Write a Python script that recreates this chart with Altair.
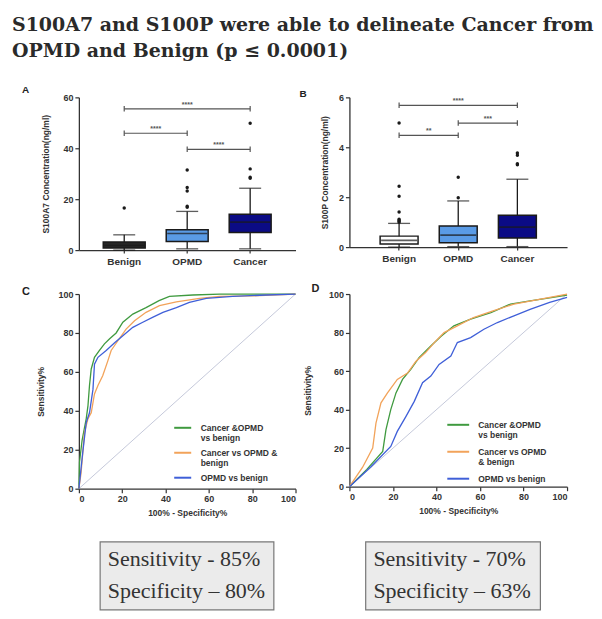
import altair as alt
import pandas as pd

# ---------------- data ----------------
groups = ["Benign", "OPMD", "Cancer"]
a_box_fill = ["#262626", "#5a9be6", "#0b0b85"]
b_box_fill = ["#ffffff", "#5a9be6", "#0b0b85"]

# Panel A: S100A7 concentration (ng/ml)
a_lo = [0.0, 0.5, 0.5]
a_q1 = [0.8, 3.4, 6.9]
a_med = [1.8, 6.5, 11.0]
a_q3 = [3.2, 8.0, 14.1]
a_hi = [6.0, 15.2, 24.3]
a_out_group = ["Benign", "OPMD", "OPMD", "OPMD", "OPMD", "OPMD",
               "Cancer", "Cancer", "Cancer", "Cancer"]
a_out_value = [16.5, 16.8, 17.2, 23.2, 24.6, 31.5, 28.2, 28.6, 31.9, 49.8]
a_br_left = ["Benign", "Benign", "OPMD"]
a_br_right = ["Cancer", "OPMD", "Cancer"]
a_br_y = [55.5, 45.9, 39.6]
a_br_label = ["****", "****", "****"]
a_ticks = [0, 20, 40, 60]

# Panel B: S100P concentration (ng/ml)
b_lo = [0.0, 0.02, 0.02]
b_q1 = [0.12, 0.17, 0.36]
b_med = [0.27, 0.48, 0.80]
b_q3 = [0.44, 0.85, 1.28]
b_hi = [0.95, 1.85, 2.72]
b_out_group = ["Benign"] * 8 + ["OPMD"] * 2 + ["Cancer"] * 4
b_out_value = [1.0, 1.04, 1.08, 1.12, 1.41, 2.04, 2.44, 4.97,
               1.98, 2.80, 3.30, 3.34, 3.68, 3.77]
b_br_left = ["Benign", "OPMD", "Benign"]
b_br_right = ["Cancer", "Cancer", "OPMD"]
b_br_y = [5.68, 4.97, 4.48]
b_br_label = ["****", "***", "**"]
b_ticks = [0, 2, 4, 6]

# ROC curves
series = ["Cancer &OPMD vs benign", "Cancer vs OPMD & benign", "OPMD vs benign"]
roc_colors = ["#3f9a3f", "#f2a35a", "#3f5fd8"]
roc_ticks = [0, 20, 40, 60, 80, 100]
diag_x = [0, 100]
diag_y = [0, 100]

c_green_x = [0, 0.3, 1.5, 3.4, 4.2, 4.9, 5.7, 7.2, 9.5, 11.8, 14.2, 17.2, 20.3, 24.9, 31, 37, 41.8, 52.6, 65, 100]
c_green_y = [0, 13.7, 25, 36, 42.7, 53, 61.5, 67.5, 71, 74.4, 77, 80, 85.5, 89.7, 93, 96.6, 98.8, 99.5, 100, 100]
c_orange_x = [0, 1.0, 2.6, 4.2, 5.7, 7.2, 8.8, 11, 13.4, 14.9, 18, 21.8, 25.7, 31, 37.2, 45, 55.7, 65, 80, 100]
c_orange_y = [0, 8, 29, 36, 39, 48.7, 53, 58, 65.8, 71, 76, 82, 86.3, 90.6, 94, 96, 97.8, 98.8, 99, 100]
c_blue_x = [0, 1.8, 3.4, 4.9, 6.5, 7.2, 8.8, 12.6, 16.5, 20.3, 24.9, 29.5, 34, 38.8, 45, 51, 58.8, 71, 86.5, 100]
c_blue_y = [0, 18.8, 34, 39, 51, 64, 67.5, 71, 75, 78.6, 82.9, 85.5, 88, 90.6, 93, 95.7, 97.8, 98.8, 99.5, 100]

d_green_x = [0, 8, 15.3, 16.8, 19, 21.4, 24.4, 28.2, 32, 37.4, 42, 48, 55.7, 65, 74, 83, 92, 100]
d_green_y = [0, 9, 18.3, 29.6, 40, 48.7, 55.7, 60.9, 67, 73, 78, 83.5, 87, 90.4, 94.8, 96.5, 98, 99.5]
d_orange_x = [0, 6, 10.7, 12.2, 14.5, 17.5, 22, 26.7, 30.5, 35, 39, 43.5, 49.6, 57, 66, 75.6, 86, 100]
d_orange_y = [0, 10, 20, 33, 43.5, 48.7, 55.7, 59, 65, 69.6, 74.8, 80, 83.5, 87.8, 91.3, 94.8, 97, 100]
d_blue_x = [0, 10, 19, 22, 26, 29.8, 33.6, 37.4, 41.2, 46.6, 49.6, 55.7, 61.8, 68, 75.6, 83, 92, 100]
d_blue_y = [0, 10.5, 20.9, 28.7, 36.5, 44.3, 54, 57.4, 63.5, 67.8, 74.8, 77.4, 81.7, 85.2, 88.7, 92, 95.7, 98.3]

stat_text_1 = ["Sensitivity - 85%", "Specificity \u2013 80%"]
stat_text_2 = ["Sensitivity - 70%", "Specificity \u2013 63%"]

main_title = ["S100A7 and S100P were able to delineate Cancer from",
              "OPMD and Benign (p \u2264 0.0001)"]

# ---------------- styling ----------------
SANS = "Liberation Sans"
SERIF = "DejaVu Serif"
INK = "#1a1a1a"
GRAY = "#555555"


def letter_title(letter, dx, offset, size):
    return alt.TitleParams(letter, anchor="start", frame="group", font=SANS, fontSize=size,
                           fontWeight="bold", color="#222", dx=dx, offset=offset,
                           baseline="bottom")


def box_panel(letter, ldx, loff, ytitle, ymax, ticks, lo, q1, med, q3, hi,
              out_g, out_v, brl, brr, bry, brlab, width, height, pad_outer, box_w,
              fills, yext, ytp):
    stats = pd.DataFrame({"group": groups, "lo": lo, "q1": q1, "med": med, "q3": q3, "hi": hi})
    xs = alt.Scale(domain=groups, paddingInner=0, paddingOuter=pad_outer)
    ys = alt.Scale(domain=[0, ymax], nice=False)
    xax = alt.Axis(title=None, labelAngle=0, labelFontSize=10, tickSize=3, labelPadding=3)
    yax = alt.Axis(title=ytitle, values=ticks, tickSize=4, labelPadding=2, titlePadding=ytp,
                   minExtent=yext, maxExtent=yext)
    X = alt.X("group:N", scale=xs, axis=xax, sort=groups)
    base = alt.Chart(stats)
    whisk = base.mark_rule(color=INK, strokeWidth=1.3).encode(
        x=X, y=alt.Y("lo:Q", scale=ys, axis=yax), y2="hi:Q")
    box = base.mark_bar(size=box_w, stroke=INK, strokeWidth=1.5).encode(
        x=X, y=alt.Y("q1:Q", scale=ys), y2="q3:Q",
        fill=alt.Fill("group:N", scale=alt.Scale(domain=groups, range=fills), legend=None))
    medt = base.mark_tick(size=box_w - 2, thickness=1.6, color=INK).encode(
        x=X, y=alt.Y("med:Q", scale=ys))
    cap_hi = base.mark_tick(size=22, thickness=1.3, color=INK).encode(
        x=X, y=alt.Y("hi:Q", scale=ys))
    cap_lo = base.mark_tick(size=22, thickness=1.3, color=INK).encode(
        x=X, y=alt.Y("lo:Q", scale=ys))
    outs = alt.Chart(pd.DataFrame({"group": out_g, "value": out_v})).mark_point(
        filled=True, size=12, color=INK, opacity=1).encode(
        x=X, y=alt.Y("value:Q", scale=ys))
    layers = [whisk, box, medt, cap_hi, cap_lo, outs]

    bdf = pd.DataFrame({"left": brl, "right": brr, "y": bry, "label": brlab})
    layers.append(alt.Chart(bdf).mark_rule(color=GRAY, strokeWidth=1.2).encode(
        x=alt.X("left:N", scale=xs, axis=xax), x2="right:N", y=alt.Y("y:Q", scale=ys)))
    edf = pd.DataFrame({"cat": brl + brr, "y": bry + bry})
    layers.append(alt.Chart(edf).mark_point(shape="M0,-1L0,1", size=30, strokeWidth=1.2,
                                            color=GRAY, opacity=1).encode(
        x=alt.X("cat:N", scale=xs, axis=xax), y=alt.Y("y:Q", scale=ys)))
    for l, r, yv, lab in zip(brl, brr, bry, brlab):
        i, j = groups.index(l), groups.index(r)
        m = (i + j) / 2
        if m == int(m):
            cat, bp = groups[int(m)], 0.5
        else:
            cat, bp = groups[int(m)], 1.0
        tdf = pd.DataFrame({"cat": [cat], "y": [yv], "label": [lab]})
        layers.append(alt.Chart(tdf).mark_text(baseline="bottom", dy=-1, fontSize=7,
                                               font=SANS, fontWeight="bold", color=GRAY).encode(
            x=alt.X("cat:N", scale=xs, axis=xax, bandPosition=bp),
            y=alt.Y("y:Q", scale=ys), text="label:N"))
    return alt.layer(*layers).properties(width=width, height=height,
                                         title=letter_title(letter, ldx, loff, 10))


def roc_panel(letter, ldx, loff, curves, labexpr, width, height, lx, ly, yext, ytp,
              sym_size, lab_off):
    rows = []
    for name, (cx, cy) in zip(series, curves):
        for k, (a, b) in enumerate(zip(cx, cy)):
            rows.append({"series": name, "fpr": a, "tpr": b, "k": k})
    df = pd.DataFrame(rows)
    sx = alt.Scale(domain=[0, 100], nice=False)
    sy = alt.Scale(domain=[0, 100], nice=False)
    xax = alt.Axis(title="100% - Specificity%", values=roc_ticks, tickSize=4, labelPadding=2,
                   titlePadding=5)
    yax = alt.Axis(title="Sensitivity%", values=roc_ticks, tickSize=4, labelPadding=2,
                   titlePadding=ytp, minExtent=yext, maxExtent=yext)
    diag = alt.Chart(pd.DataFrame({"fpr": diag_x, "tpr": diag_y})).mark_line(
        color="#c5c9da", strokeWidth=1).encode(
        x=alt.X("fpr:Q", scale=sx, axis=xax), y=alt.Y("tpr:Q", scale=sy, axis=yax))
    lines = alt.Chart(df).mark_line(strokeWidth=1.3).encode(
        x=alt.X("fpr:Q", scale=sx, axis=xax),
        y=alt.Y("tpr:Q", scale=sy, axis=yax),
        color=alt.Color("series:N", scale=alt.Scale(domain=series, range=roc_colors),
                        legend=alt.Legend(title=None, orient="none", legendX=lx, legendY=ly,
                                          symbolType="stroke", symbolStrokeWidth=2,
                                          symbolSize=sym_size, labelFont=SANS, labelFontSize=8.5,
                                          labelFontWeight="bold", labelColor="#333",
                                          labelExpr=labexpr, rowPadding=0, labelOffset=lab_off,
                                          labelLimit=200)),
        order="k:Q")
    return alt.layer(diag, lines).properties(width=width, height=height,
                                             title=letter_title(letter, ldx, loff, 11))


def stat_box(lines, width, height):
    d = pd.DataFrame({"line": [0, 1], "text": lines})
    return alt.Chart(d).mark_text(align="left", baseline="alphabetic", font="Liberation Serif",
                                  fontSize=22, color="#333").encode(
        x=alt.value(8),
        y=alt.Y("line:O", axis=None, scale=alt.Scale(domain=[0, 1], range=[24, 56], padding=0)),
        text="text:N").properties(width=width, height=height,
                                  view=alt.ViewBackground(fill="#ebebeb", stroke="#777",
                                                          strokeWidth=1.2))


def spacer(w, h):
    return alt.Chart(pd.DataFrame({"v": [0]})).mark_point(opacity=0).encode(
        x=alt.X("v:Q", axis=None), y=alt.Y("v:Q", axis=None)).properties(width=w, height=h)


A = box_panel("A", -57, -12, "S100A7 Concentration(ng/ml)", 60, a_ticks, a_lo, a_q1, a_med, a_q3,
              a_hi, a_out_group, a_out_value, a_br_left, a_br_right, a_br_y, a_br_label,
              217, 153, 0.22, 42, a_box_fill, 20, 8)
B = box_panel("B", -50, -16, "S100P Concentration(ng/ml)", 6, b_ticks, b_lo, b_q1, b_med, b_q3,
              b_hi, b_out_group, b_out_value, b_br_left, b_br_right, b_br_y, b_br_label,
              218, 150, 0.34, 38, b_box_fill, 12, 8)

lab_c = ("datum.label == 'Cancer &OPMD vs benign' ? ['Cancer &OPMD', 'vs benign'] : "
         "datum.label == 'Cancer vs OPMD & benign' ? ['Cancer vs OPMD &', 'benign'] : datum.label")
lab_d = ("datum.label == 'Cancer &OPMD vs benign' ? ['Cancer &OPMD', 'vs benign'] : "
         "datum.label == 'Cancer vs OPMD & benign' ? ['Cancer vs OPMD', '& benign'] : datum.label")

C = roc_panel("C", -57, -18, [(c_green_x, c_green_y), (c_orange_x, c_orange_y), (c_blue_x, c_blue_y)],
              lab_c, 217, 195, 94, 124, 22, 11, 290, 8)
D = roc_panel("D", -38, -15, [(d_green_x, d_green_y), (d_orange_x, d_orange_y), (d_blue_x, d_blue_y)],
              lab_d, 218, 193, 97, 119, 22, 15, 480, 8)

grid = alt.concat(
    A, B, C, D, columns=2, bounds="flush", spacing={"row": 44, "column": 54},
).resolve_scale(color="independent", fill="independent")

row3 = alt.hconcat(spacer(20, 68), stat_box(stat_text_1, 174, 68), spacer(90, 68),
                   stat_box(stat_text_2, 175, 68), spacing=0)

chart = alt.vconcat(grid, row3, spacing=23).properties(
    title=alt.TitleParams(main_title, anchor="start", frame="bounds", font=SERIF, fontSize=19,
                          fontWeight="bold", color="#2a2a2a", lineHeight=26, offset=24, dx=-10),
    padding={"left": 4, "top": 8, "right": 0, "bottom": 0},
).resolve_scale(color="independent", fill="independent").configure(
    background="white",
).configure_view(stroke=None).configure_axis(
    grid=False, domainColor="#333", domainWidth=1.3, tickColor="#333", tickWidth=1.2,
    labelFont=SANS, labelFontSize=9, labelFontWeight="bold", labelColor="#333",
    titleFont=SANS, titleFontSize=8.5, titleFontWeight="bold", titleColor="#333",
)

chart.save("out.html", embed_options={"renderer": "svg", "actions": False})
